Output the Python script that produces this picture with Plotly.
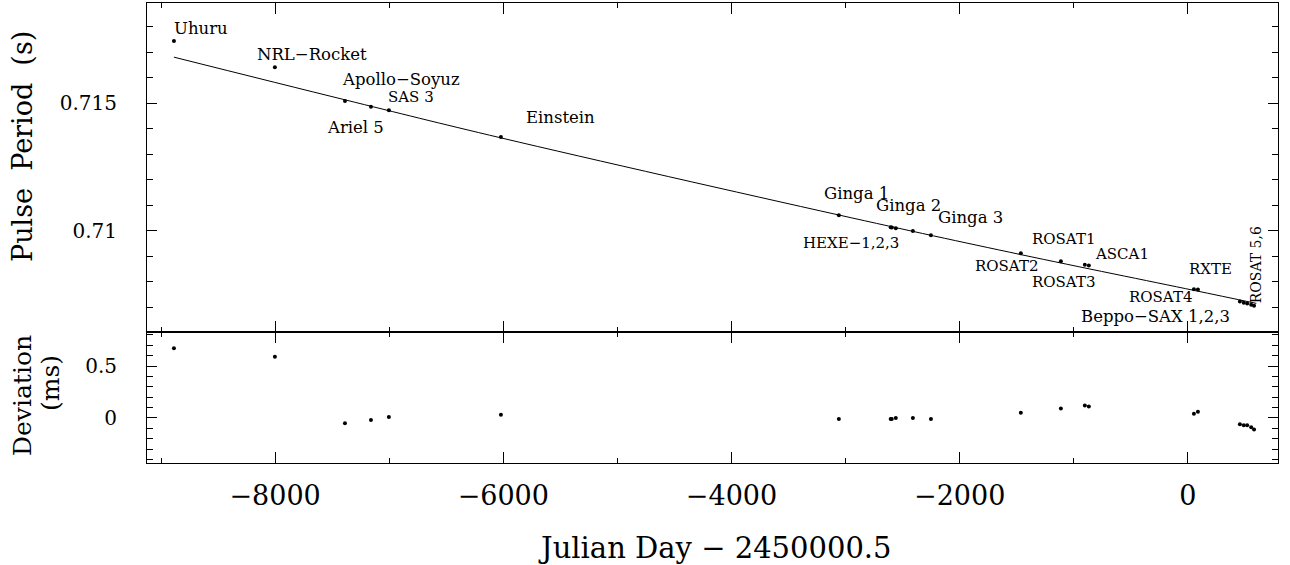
import re
import plotly.graph_objects as go
from plotly.subplots import make_subplots

# ---- data ----
jd = [-8887, -8002, -7388, -7160, -7003, -6021, -3059, -2605, -2595, -2560,
      -2410, -2252, -1464, -1113, -903, -868, 53, 88, 456, 490, 520, 555, 580]
period = [0.71743, 0.71640, 0.71508, 0.71486, 0.71472, 0.71367, 0.71061,
          0.71014, 0.71013, 0.71010, 0.70999, 0.70983, 0.70912, 0.70881,
          0.70867, 0.70864, 0.70771, 0.70770, 0.70723, 0.70719, 0.70716,
          0.70711, 0.70707]
deviation = [0.67, 0.59, -0.05, -0.02, 0.01, 0.03, -0.01, -0.01, -0.01, 0.00,
             0.00, -0.01, 0.05, 0.09, 0.12, 0.11, 0.04, 0.06, -0.06, -0.07,
             -0.07, -0.09, -0.11]

fit_jd = [-8887, -7388, -6021, -3059, -1464, 53, 600]
fit_period = [0.71680, 0.71513, 0.71364, 0.71062, 0.70907, 0.70767, 0.70716]

mission_labels = ["Uhuru", "NRL\u2212Rocket", "Apollo\u2212Soyuz", "SAS 3", "Ariel 5",
                  "Einstein", "Ginga 1", "Ginga 2", "Ginga 3", "HEXE\u22121,2,3",
                  "ROSAT1", "ROSAT2", "ASCA1", "ROSAT3", "RXTE", "ROSAT4",
                  "Beppo\u2212SAX 1,2,3", "ROSAT 5,6"]
# label placement (left edge x in JD, y in s, rotation)
label_place = [(-8896, 0.71794, 0), (-8168, 0.71692, 0), (-7423, 0.71594, 0),
               (-7020, 0.71524, 0), (-7555, 0.71406, 0), (-5811, 0.71445, 0),
               (-3199, 0.71147, 0), (-2743, 0.71100, 0), (-2200, 0.71053, 0),
               (-3383, 0.70951, 0), (-1376, 0.70970, 0), (-1876, 0.70861, 0),
               (-824, 0.70908, 0), (-1376, 0.70798, 0), (0, 0.70849, 0),
               (-526, 0.70740, 0), (-947, 0.70666, 0), (596, 0.70869, -90)]

x_range = [-9123, 790]
y_top_range = [0.70604, 0.71892]
y_bot_range = [-0.433, 0.827]

FONT = "DejaVu Serif"
NB = "\u00a0"

fig = make_subplots(rows=2, cols=1, shared_xaxes=True, vertical_spacing=0,
                    row_heights=[329, 131])

fig.add_trace(go.Scatter(x=fit_jd, y=fit_period, mode="lines",
                         line=dict(color="black", width=1, shape="spline"),
                         hoverinfo="skip"), row=1, col=1)
fig.add_trace(go.Scatter(x=jd, y=period, mode="markers",
                         marker=dict(color="black", size=4, symbol="circle")),
              row=1, col=1)
fig.add_trace(go.Scatter(x=jd, y=deviation, mode="markers",
                         marker=dict(color="black", size=4, symbol="circle")),
              row=2, col=1)

axis_common = dict(showline=True, linecolor="black", linewidth=1, mirror="allticks",
                   ticks="inside", tickcolor="black", showgrid=False, zeroline=False)

fig.update_xaxes(range=x_range, dtick=2000, tick0=0, ticklen=11, tickwidth=1,
                 minor=dict(ticks="inside", dtick=1000, ticklen=5, tickcolor="black"),
                 **axis_common)
fig.update_xaxes(showticklabels=False, row=1, col=1)
fig.update_xaxes(showticklabels=True, row=2, col=1,
                 tickfont=dict(family=FONT, size=27, color="black"),
                 ticklabelstandoff=9)

fig.update_yaxes(range=y_top_range, tickvals=[0.71, 0.715], ticktext=["0.71", "0.715"],
                 ticklen=10, tickwidth=1,
                 minor=dict(ticks="inside", dtick=0.001, tick0=0.71, ticklen=6,
                            tickcolor="black"),
                 tickfont=dict(family=FONT, size=20, color="black"),
                 ticklabelstandoff=25, row=1, col=1, **axis_common)
fig.update_yaxes(range=y_bot_range, tickvals=[0, 0.5], ticktext=["0", "0.5"],
                 ticklen=10, tickwidth=1,
                 minor=dict(ticks="inside", dtick=0.1, tick0=0, ticklen=6,
                            tickcolor="black"),
                 tickfont=dict(family=FONT, size=20, color="black"),
                 ticklabelstandoff=25, row=2, col=1, **axis_common)

for txt, (lx, ly, ang) in zip(mission_labels, label_place):
    size = 16.5 if re.search(r"[a-z]", txt) else 15
    if ang == 0:
        fig.add_annotation(x=lx, y=ly, xref="x", yref="y", text=txt, showarrow=False,
                           xanchor="left", yanchor="middle", textangle=0, borderpad=0,
                           font=dict(family=FONT, size=size, color="black"))
    else:
        fig.add_annotation(x=lx, y=ly, xref="x", yref="y", text=txt, showarrow=False,
                           xanchor="center", yanchor="middle", textangle=ang, borderpad=0,
                           font=dict(family=FONT, size=14, color="black"))

# axis titles
L, W, T, H = 147, 1131, 3, 460
def px2paper(px, py):
    return (px - L) / W, (T + H - py) / H

tx, ty = px2paper(22, 147)
fig.add_annotation(x=tx, y=ty, xref="paper", yref="paper",
                   text="Pulse" + NB * 2 + "Period" + NB * 2 + "(s)",
                   textangle=-90, showarrow=False, xanchor="center", yanchor="middle",
                   font=dict(family=FONT, size=27, color="black"))
tx, ty = px2paper(22, 396)
fig.add_annotation(x=tx, y=ty, xref="paper", yref="paper", text="Deviation",
                   textangle=-90, showarrow=False, xanchor="center", yanchor="middle",
                   font=dict(family=FONT, size=25, color="black"))
tx, ty = px2paper(50, 383)
fig.add_annotation(x=tx, y=ty, xref="paper", yref="paper", text="(ms)",
                   textangle=-90, showarrow=False, xanchor="center", yanchor="middle",
                   font=dict(family=FONT, size=25, color="black"))
tx, ty = px2paper(715, 548)
fig.add_annotation(x=tx, y=ty, xref="paper", yref="paper",
                   text="Julian Day \u2212 2450000.5",
                   showarrow=False, xanchor="center", yanchor="middle",
                   font=dict(family=FONT, size=29, color="black"))

fig.update_layout(width=1290, height=565, showlegend=False,
                  paper_bgcolor="white", plot_bgcolor="white",
                  margin=dict(l=L, r=1290 - L - W, t=T, b=565 - T - H))

fig.write_html("out.html")
